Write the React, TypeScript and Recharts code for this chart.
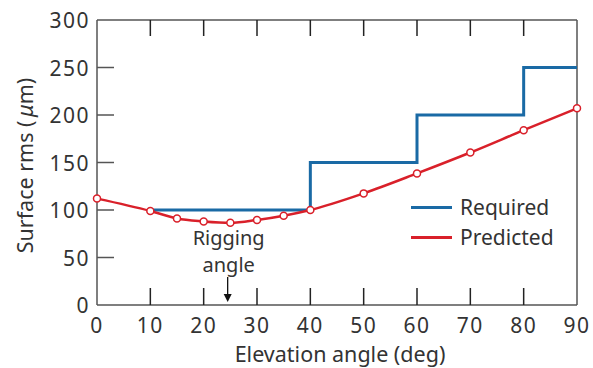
import React from "react";
import {
  ComposedChart,
  Line,
  XAxis,
  YAxis,
  ReferenceLine,
  ReferenceDot,
  Legend,
} from "recharts";

// predicted surface rms at each elevation angle
const PRED_ANGLES = [0, 10, 15, 20, 25, 30, 35, 40, 50, 60, 70, 80, 90];
const PREDICTED = [112, 99, 91, 88, 86.5, 89.5, 94, 100, 117.5, 138.5, 160.5, 184, 207];

// required spec (step function)
const REQ_ANGLES = [10, 40, 60, 80, 90];
const REQUIRED = [100, 150, 200, 250, 250];

const X_TICKS = [0, 10, 20, 30, 40, 50, 60, 70, 80, 90];
const Y_TICKS = [0, 50, 100, 150, 200, 250, 300];
const RIGGING_ANGLE = 24.5;
const LEGEND_ORDER = ["Required", "Predicted"];

const FONT = "'Noto Sans', sans-serif";
const AXIS = "#555";
const TEXT = "#333";
const BLUE = "#1a6aa5";
const RED = "#d9202a";
const TOP = 20;
const TICK_LEN = 17;

const predData = PRED_ANGLES.map((x, i) => ({ x, v: PREDICTED[i] }));
const reqData = REQ_ANGLES.map((x, i) => ({ x, v: REQUIRED[i] }));

function XTick(props: any) {
  const { x, y, payload } = props;
  const inner = payload.value !== 0 && payload.value !== 90;
  return (
    <g>
      {inner && (
        <>
          <line x1={x} x2={x} y1={y} y2={y - TICK_LEN} stroke="#222" strokeWidth={1.5} />
          <line x1={x} x2={x} y1={TOP} y2={TOP + TICK_LEN - 1} stroke="#222" strokeWidth={1.5} />
        </>
      )}
      <text x={x} y={y + 28} textAnchor="middle" fontSize={21} letterSpacing={1.5} fill={TEXT} fontFamily={FONT}>
        {payload.value}
      </text>
    </g>
  );
}

function YTick(props: any) {
  const { x, y, payload } = props;
  const inner = payload.value !== 0 && payload.value !== 300;
  return (
    <g>
      {inner && <line x1={x} x2={x + TICK_LEN} y1={y} y2={y} stroke="#555" strokeWidth={1.5} />}
      <text x={x - 7} y={y + 8} textAnchor="end" fontSize={21} letterSpacing={1.5} fill={TEXT} fontFamily={FONT}>
        {payload.value}
      </text>
    </g>
  );
}

function YTitle(props: any) {
  const { viewBox } = props;
  const cx = 24;
  const cy = viewBox.y + viewBox.height / 2 + 3;
  return (
    <text
      x={cx}
      y={cy}
      transform={`rotate(-90 ${cx} ${cy})`}
      textAnchor="middle"
      dominantBaseline="central"
      fontSize={21.5}
      fill={TEXT}
      fontFamily={FONT}
    >
      Surface rms ({"\u2009"}<tspan fontStyle="italic">μ</tspan>m)
    </text>
  );
}

function XTitle(props: any) {
  const { viewBox } = props;
  return (
    <text
      x={viewBox.x + viewBox.width / 2 + 3}
      y={viewBox.y + 57}
      textAnchor="middle"
      fontSize={21.5}
      fill={TEXT}
      fontFamily={FONT}
    >
      Elevation angle (deg)
    </text>
  );
}

function Rigging(props: any) {
  const { cx, cy } = props;
  return (
    <g fontFamily={FONT} fontSize={20} fill={TEXT}>
      <text x={cx + 1} y={cy - 60} textAnchor="middle">Rigging</text>
      <text x={cx + 1} y={cy - 33} textAnchor="middle">angle</text>
      <line x1={cx} x2={cx} y1={cy - 28} y2={cy - 10} stroke="#111" strokeWidth={1.3} />
      <path d={`M${cx - 4},${cy - 11} L${cx + 4},${cy - 11} L${cx},${cy - 3} Z`} fill="#111" />
    </g>
  );
}

function LegendBox(props: any) {
  const items = [...(props.payload || [])].sort(
    (a: any, b: any) => LEGEND_ORDER.indexOf(a.value) - LEGEND_ORDER.indexOf(b.value)
  );
  return (
    <div style={{ fontFamily: FONT, fontSize: 21, color: TEXT }}>
      {items.map((it: any) => (
        <div key={it.value} style={{ display: "flex", alignItems: "center", height: 30 }}>
          <div style={{ width: 41, height: 3, background: it.color, marginRight: 8 }} />
          <span>{it.value}</span>
        </div>
      ))}
    </div>
  );
}

export default function App() {
  return (
    <div style={{ position: "absolute", left: 0, top: 0, background: "#fff" }}>
      <ComposedChart width={593} height={368} margin={{ top: TOP, right: 16, bottom: 0, left: 0 }}>
        <XAxis
          dataKey="x"
          type="number"
          domain={[0, 90]}
          ticks={X_TICKS}
          interval={0}
          height={63}
          tickSize={0}
          tickMargin={0}
          tickLine={false}
          axisLine={{ stroke: AXIS, strokeWidth: 1.5 }}
          tick={<XTick />}
          label={<XTitle />}
        />
        <YAxis
          type="number"
          domain={[0, 300]}
          ticks={Y_TICKS}
          interval={0}
          width={97}
          tickSize={0}
          tickMargin={0}
          tickLine={false}
          axisLine={{ stroke: AXIS, strokeWidth: 1.5 }}
          tick={<YTick />}
          label={<YTitle />}
        />
        <ReferenceLine y={300} stroke={AXIS} strokeWidth={1.5} />
        <ReferenceLine x={90} stroke={AXIS} strokeWidth={1.5} />
        <Line
          data={reqData}
          dataKey="v"
          name="Required"
          type="stepAfter"
          stroke={BLUE}
          strokeWidth={3}
          dot={false}
          isAnimationActive={false}
        />
        <Line
          data={predData}
          dataKey="v"
          name="Predicted"
          type="monotone"
          stroke={RED}
          strokeWidth={2.5}
          dot={{ r: 3.5, fill: "#fff", stroke: RED, strokeWidth: 1.5 }}
          isAnimationActive={false}
        />
        <ReferenceDot x={RIGGING_ANGLE} y={0} r={0} shape={<Rigging />} />
        <Legend
          layout="vertical"
          align="center"
          verticalAlign="middle"
          content={<LegendBox />}
          wrapperStyle={{ left: 411, top: 192, width: 170 }}
        />
      </ComposedChart>
    </div>
  );
}
